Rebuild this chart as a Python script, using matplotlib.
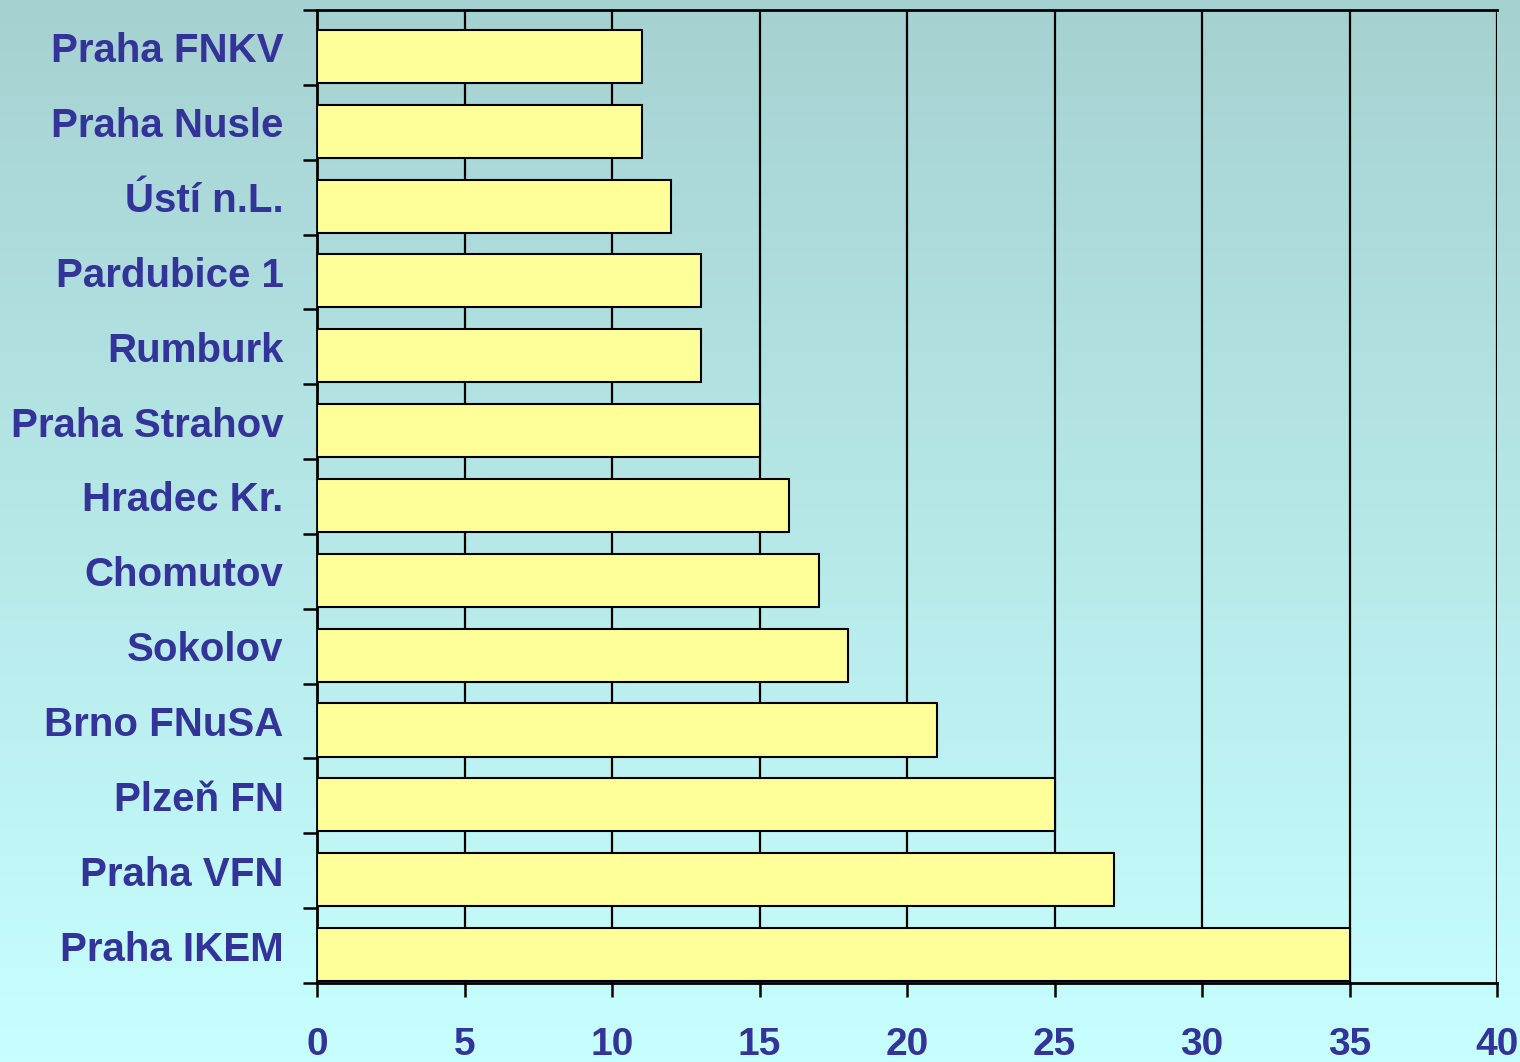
import numpy as np
import matplotlib.pyplot as plt
from matplotlib.ticker import FixedLocator

hospitals = ["Praha FNKV", "Praha Nusle", "Ústí n.L.", "Pardubice 1", "Rumburk",
             "Praha Strahov", "Hradec Kr.", "Chomutov", "Sokolov", "Brno FNuSA",
             "Plzeň FN", "Praha VFN", "Praha IKEM"]
counts = [11, 11, 12, 13, 13, 15, 16, 17, 18, 21, 25, 27, 35]
xticks = [0, 5, 10, 15, 20, 25, 30, 35, 40]

plt.rcParams['font.family'] = ['Liberation Sans', 'DejaVu Sans']
txt_color = '#333399'

fig = plt.figure(figsize=(15.2, 10.62), dpi=100)

# gradient background
bg = fig.add_axes([0, 0, 1, 1], zorder=-1)
top = np.array([166, 209, 209]) / 255
bot = np.array([199, 255, 255]) / 255
t = np.linspace(0, 1, 256)[:, None]
grad = top * (1 - t) + bot * t
bg.imshow(grad[:, None, :], aspect='auto', extent=[0, 1, 0, 1])
bg.axis('off')

ax = fig.add_axes([0.2086, 0.0744, 0.7763, 0.9162])
ax.patch.set_alpha(0)

n = len(hospitals)
ypos = np.arange(n)
ax.barh(ypos + 0.12, counts, height=0.71, color='#ffff99', edgecolor='black',
        linewidth=1.5, zorder=3)

ax.set_xlim(0, 40)
ax.set_ylim(n - 0.5, -0.5)
ax.set_xticks(xticks)
ax.set_xticklabels([str(v) for v in xticks])
ax.grid(axis='x', color='black', linewidth=1.6, zorder=1)
ax.set_axisbelow(True)

ax.set_yticks(ypos)
ax.set_yticklabels(hospitals)
ax.yaxis.set_minor_locator(FixedLocator(np.arange(n + 1) - 0.5))
ax.tick_params(axis='y', which='major', length=0, pad=24)
ax.tick_params(axis='y', which='minor', length=10, width=1.8, direction='out')
ax.tick_params(axis='x', length=10, width=1.8, direction='out', pad=22)

for lbl in ax.get_yticklabels():
    lbl.set_fontsize(29)
    lbl.set_fontweight('bold')
    lbl.set_color(txt_color)
for lbl in ax.get_xticklabels():
    lbl.set_fontsize(28)
    lbl.set_fontweight('bold')
    lbl.set_color(txt_color)

for s in ax.spines.values():
    s.set_linewidth(2)
    s.set_color('black')
ax.spines['right'].set_visible(False)

fig.savefig('out.png', dpi=100)
